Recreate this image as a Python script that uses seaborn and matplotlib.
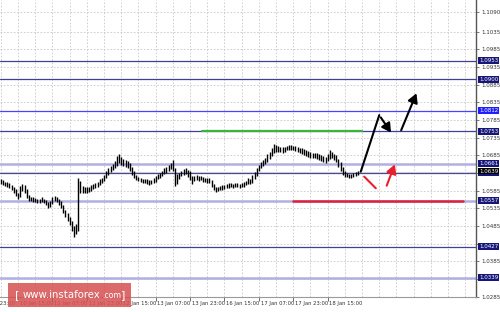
import matplotlib
matplotlib.use("Agg")
import matplotlib.pyplot as plt
import matplotlib.transforms as mtransforms
import seaborn as sns
import pandas as pd

# ---- hourly bars, prices in pips above 1.0000 (1.0610 -> 610) ----
highs = [618, 614, 611, 610, 606, 601, 597, 589, 578, 598, 603, 600, 590, 572, 568, 566, 565, 563, 562, 566,
         562, 558, 552, 556, 568, 570, 566, 561, 556, 544, 530, 522, 512, 500, 484, 490, 620, 612, 598, 595,
         596, 597, 600, 604, 608, 611, 617, 620, 630, 641, 648, 654, 660, 668, 683, 688, 680, 676, 672, 670,
         664, 652, 640, 630, 625, 622, 619, 618, 617, 614, 616, 620, 628, 631, 636, 642, 648, 652, 658, 664,
         672, 650, 632, 636, 642, 646, 648, 645, 640, 626, 628, 630, 628, 627, 625, 622, 620, 622, 616, 604,
         596, 597, 599, 600, 602, 604, 606, 607, 604, 606, 607, 604, 607, 610, 613, 620, 617, 630, 638, 650,
         658, 666, 672, 678, 688, 695, 705, 716, 714, 712, 710, 708, 710, 712, 714, 715, 712, 712, 710, 707,
         705, 702, 699, 697, 694, 693, 692, 691, 688, 686, 683, 680, 690, 700, 695, 690, 686, 675, 665, 652,
         640, 636, 633, 633, 635, 638, 641]
lows = [603, 600, 598, 597, 592, 588, 580, 570, 563, 566, 584, 578, 565, 557, 556, 554, 553, 551, 550, 553,
        550, 545, 537, 540, 548, 556, 553, 545, 535, 522, 510, 500, 488, 470, 454, 462, 470, 578, 578, 579,
        580, 582, 585, 589, 594, 597, 602, 606, 612, 620, 630, 638, 644, 650, 656, 664, 658, 655, 652, 648,
        641, 630, 620, 615, 612, 609, 607, 607, 604, 602, 603, 606, 610, 617, 621, 627, 633, 636, 641, 646,
        640, 598, 605, 617, 626, 630, 633, 625, 615, 605, 612, 616, 613, 614, 611, 609, 606, 608, 595, 586,
        581, 583, 586, 587, 589, 592, 594, 595, 592, 595, 595, 592, 595, 597, 600, 605, 603, 608, 618, 628,
        640, 649, 655, 660, 666, 675, 684, 692, 696, 695, 696, 693, 696, 699, 701, 701, 699, 698, 696, 692,
        690, 687, 684, 681, 678, 679, 678, 676, 672, 670, 666, 663, 670, 676, 677, 672, 665, 652, 641, 630,
        625, 623, 621, 622, 623, 626, 630]

time_labels = ["9 Jan 23:00", "10 Jan 15:00", "11 Jan 07:00", "11 Jan 23:00", "12 Jan 15:00",
               "13 Jan 07:00", "13 Jan 23:00", "16 Jan 15:00", "17 Jan 07:00", "17 Jan 23:00", "18 Jan 15:00"]
time_label_bars = [-8, 8, 24, 40, 56, 72, 88, 104, 120, 136, 152]

price_ticks = [1.1090, 1.1035, 1.0985, 1.0935, 1.0885, 1.0835, 1.0785, 1.0735, 1.0685, 1.0635,
               1.0585, 1.0535, 1.0485, 1.0435, 1.0385, 1.0335, 1.0285]
hidden_tick_labels = [1.0635, 1.0435, 1.0335]  # covered by level boxes in the original

levels = [1.0953, 1.0900, 1.0812, 1.0753, 1.0661, 1.0636, 1.0557, 1.0427, 1.0339]
level_kind = ["navy", "navy", "blue", "navy", "light", "navy", "light", "navy", "light"]
last_price = 1.0639

green_level = 1.0753
green_span = [93.5, 168]
red_level = 1.0557
red_span = [136, 215]

# forecast arrows (bar index, price)
path_x = [167.4, 176.0, 182.2]
path_y = [1.0639, 1.0799, 1.0743]
up_arrow_x = [185.7, 193.8]
up_arrow_y = [1.0749, 1.0868]
red_seg_x = [169.0, 174.4]
red_seg_y = [1.0625, 1.0592]
red_arrow_x = [179.0, 183.7]
red_arrow_y = [1.0592, 1.0667]

sns.set_theme(style="white")
plt.rcParams["font.family"] = ["DejaVu Sans"]

fig = plt.figure(figsize=(5.0, 3.12), dpi=100)
ax = fig.add_axes([0.0, 15 / 312, 476 / 500, 297 / 312])
ax.set_facecolor("white")

df = pd.DataFrame({"bar": range(len(highs)),
                   "high": [1 + h / 10000 for h in highs],
                   "low": [1 + l / 10000 for l in lows]})

ymin, ymax = 1.02843, 1.11248
xmin, xmax = -0.4, 221.0
ax.set_xlim(xmin, xmax)
ax.set_ylim(ymin, ymax)

grid_kw = dict(color="#c8c8c8", lw=0.6, ls=(0, (2, 2)), zorder=0)
for p in price_ticks:
    ax.axhline(p, **grid_kw)
for b in range(0, 224, 8):
    ax.axvline(b, **grid_kw)

lvl_colors = {"navy": ("#40409a", 0.9), "blue": ("#4545ff", 0.9), "light": ("#b0b0e4", 1.8)}
for lv, kd in zip(levels, level_kind):
    c, w = lvl_colors[kd]
    ax.axhline(lv, color=c, lw=w, zorder=1)
ax.axhline(last_price, color="#cccccc", lw=0.8, zorder=1)

ax.vlines(df["bar"], df["low"], df["high"], color="black", lw=1.0, zorder=3)

ax.plot(green_span, [green_level, green_level], color="#3cb43c", lw=1.6, zorder=2)
ax.plot(red_span, [red_level, red_level], color="#e0203c", lw=1.8, zorder=2)

sns.lineplot(x=path_x[:2], y=path_y[:2], color="black", lw=1.5, ax=ax, sort=False, zorder=4)
ax.annotate("", xy=(path_x[2], path_y[2]), xytext=(path_x[1], path_y[1]),
            arrowprops=dict(arrowstyle="-|>,head_length=0.45,head_width=0.25", color="black", lw=1.5), zorder=4)
ax.annotate("", xy=(up_arrow_x[1], up_arrow_y[1]), xytext=(up_arrow_x[0], up_arrow_y[0]),
            arrowprops=dict(arrowstyle="-|>,head_length=0.45,head_width=0.25", color="black", lw=1.5), zorder=4)
sns.lineplot(x=red_seg_x, y=red_seg_y, color="#e8202a", lw=1.5, ax=ax, sort=False, zorder=4)
ax.annotate("", xy=(red_arrow_x[1], red_arrow_y[1]), xytext=(red_arrow_x[0], red_arrow_y[0]),
            arrowprops=dict(arrowstyle="-|>,head_length=0.45,head_width=0.25", color="#e8202a", lw=1.5), zorder=4)

# axes appearance
for s in ["left", "top"]:
    ax.spines[s].set_visible(False)
ax.spines["right"].set_color("#555555")
ax.spines["right"].set_linewidth(1.0)
ax.spines["bottom"].set_color("#9a9a9a")
ax.spines["bottom"].set_linewidth(0.8)

ax.yaxis.tick_right()
ax.set_yticks(price_ticks)
ax.set_yticklabels(["" if p in hidden_tick_labels else f"{p:.4f}" for p in price_ticks])
ax.tick_params(axis="y", which="major", right=True, length=2, width=0.6, color="#666666",
               labelsize=4.0, labelcolor="#333333", pad=1.5)
vis_bars = [b for b in time_label_bars if b >= 0]
ax.set_xticks(vis_bars)
ax.set_xticklabels([""] * len(vis_bars))
ax.tick_params(axis="x", which="major", bottom=True, length=3, width=0.6, color="#555555")
ax.set_xlabel("")
ax.set_ylabel("")

xtrans = mtransforms.blended_transform_factory(ax.transData, fig.transFigure)
for b, lab in zip(time_label_bars, time_labels):
    ax.text(b + 0.8, 8.5 / 312, lab, transform=xtrans, fontsize=3.75, color="#333333",
            ha="left", va="center", clip_on=False)

ytrans = mtransforms.blended_transform_factory(ax.transAxes, ax.transData)
box_colors = {"navy": "#16167a", "blue": "#1e1eff", "light": "#16167a"}
for lv, kd in zip(levels, level_kind):
    ax.text(1.006, lv, f"{lv:.4f}", transform=ytrans, fontsize=4.0, color="white",
            ha="left", va="center", clip_on=False, zorder=10,
            bbox=dict(boxstyle="square,pad=0.2", fc=box_colors[kd], ec="none"))
ax.text(1.006, last_price + 0.00008, f"{last_price:.4f}", transform=ytrans, fontsize=4.0, color="white",
        ha="left", va="center", clip_on=False, zorder=11,
        bbox=dict(boxstyle="square,pad=0.1", fc="black", ec="none"))

# watermark
fig.patches.append(plt.Rectangle((8 / 500, 5 / 312), 123 / 500, 24 / 312, transform=fig.transFigure,
                                 facecolor="#d65050", alpha=0.85, edgecolor="none", zorder=20))
fig.text(15 / 500, 17 / 312, "[", fontsize=8.0, color="white", ha="left", va="center", zorder=21)
fig.text(23 / 500, 17 / 312, "www.instaforex", fontsize=7.3, color="white", ha="left", va="center", zorder=21)
fig.text(102 / 500, 16 / 312, ".com", fontsize=5.6, color="white", ha="left", va="center", zorder=21)
fig.text(121 / 500, 17 / 312, "]", fontsize=8.0, color="white", ha="left", va="center", zorder=21)

fig.savefig("out.png", dpi=100, facecolor="white")
